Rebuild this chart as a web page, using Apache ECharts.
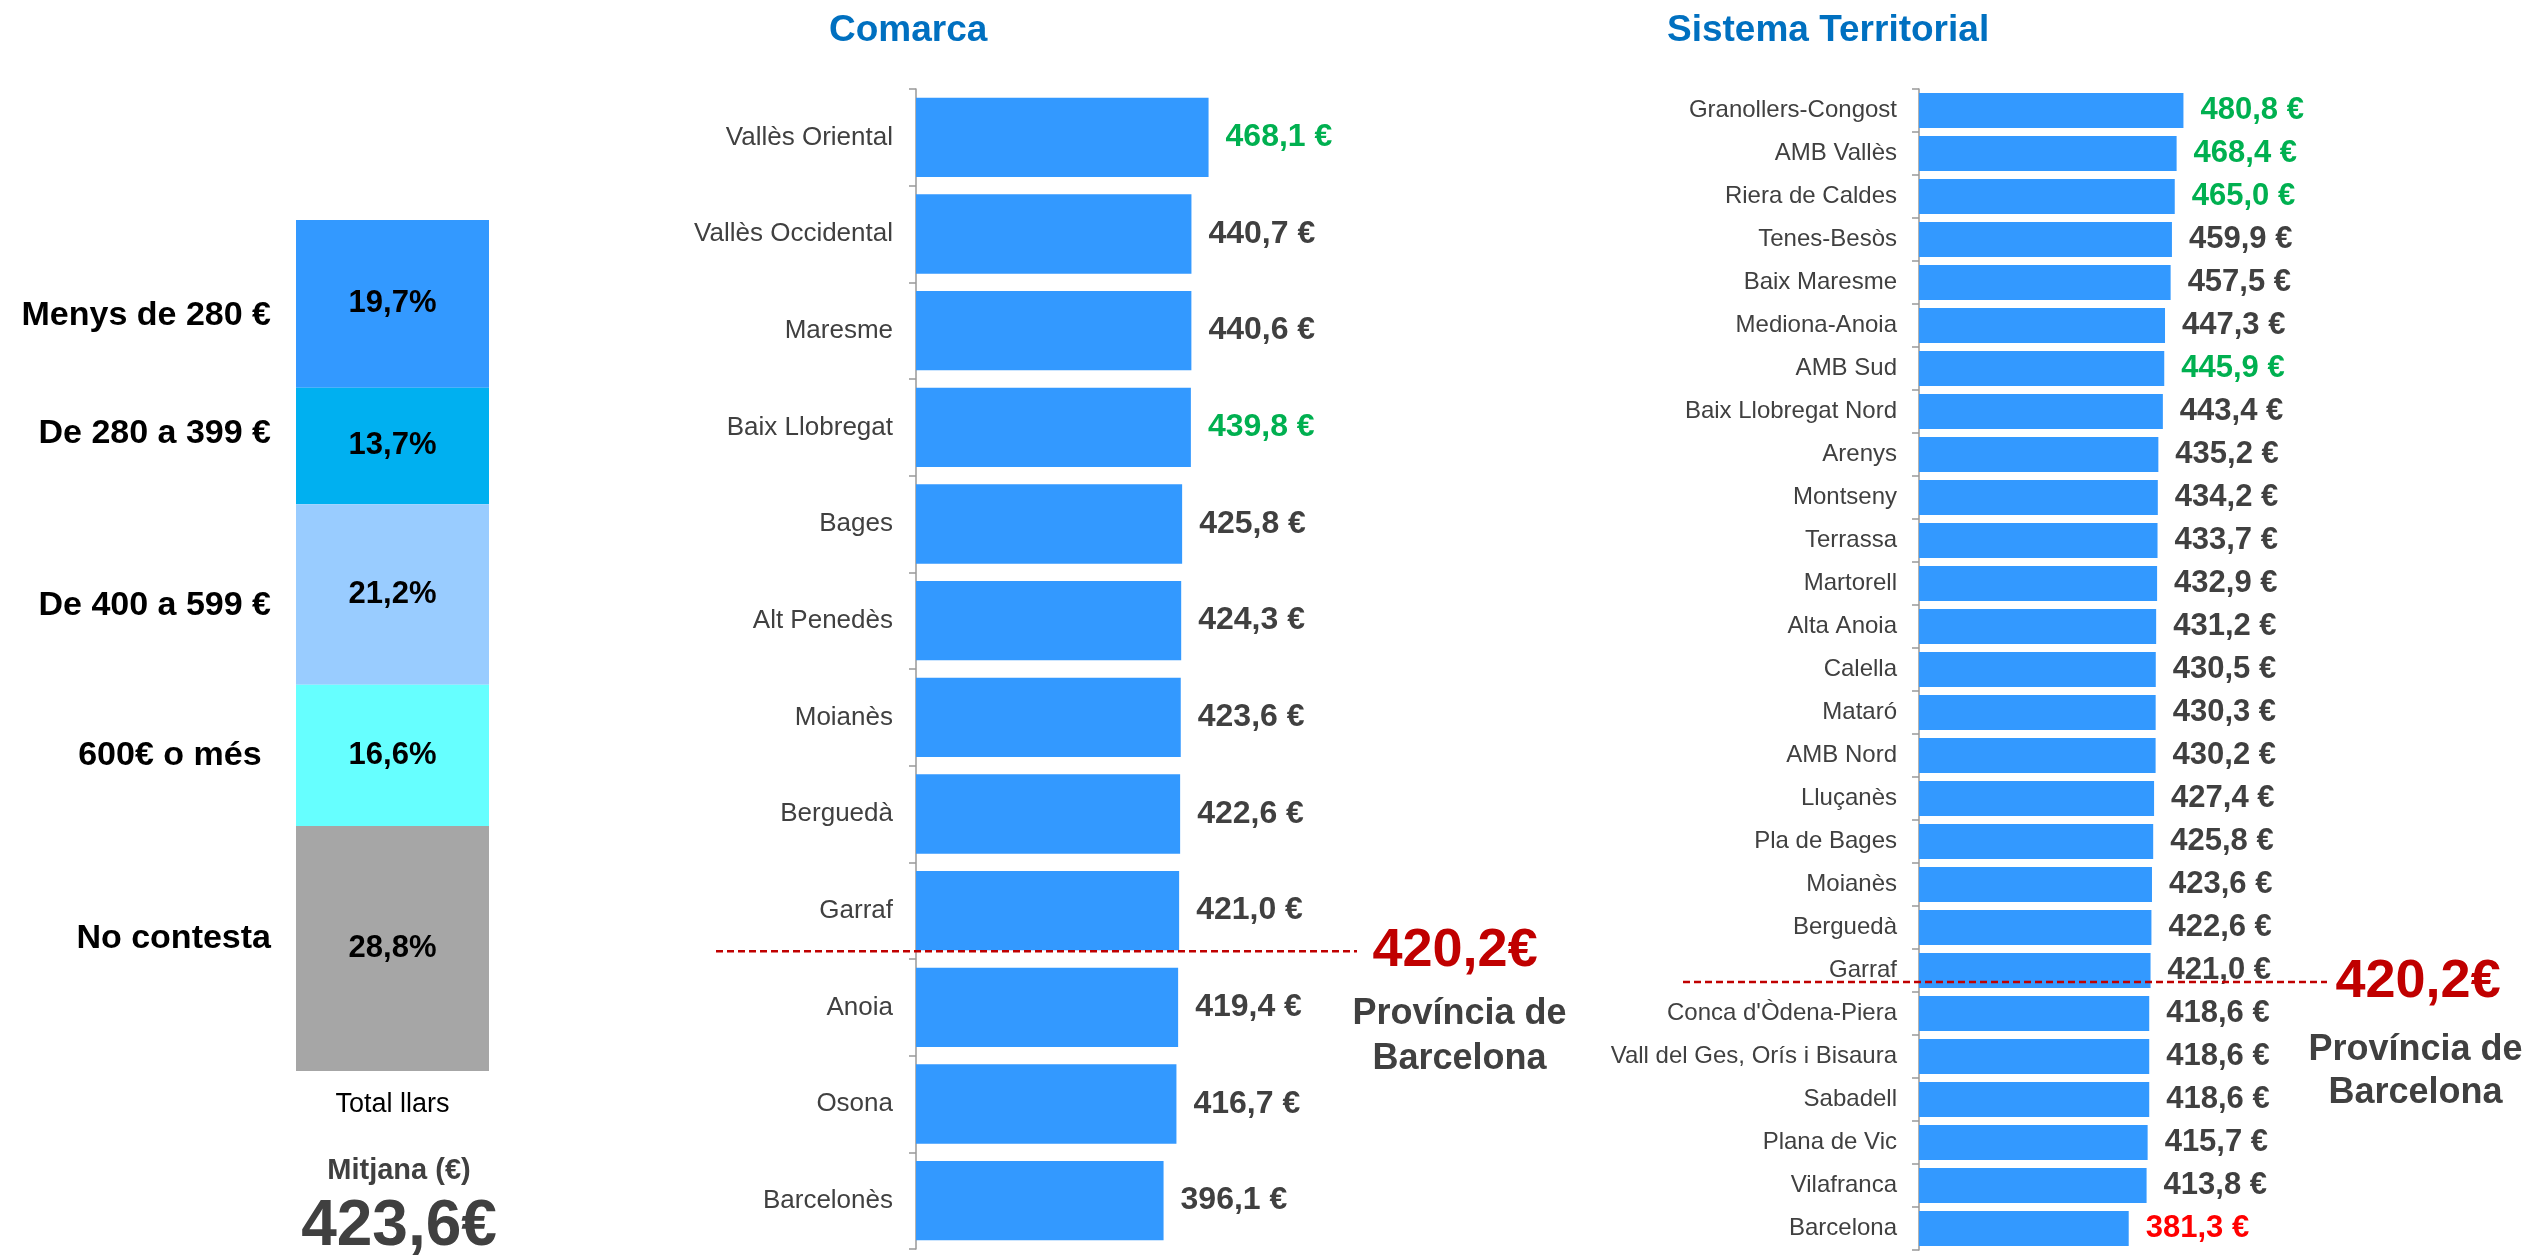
<!DOCTYPE html>
<html>
<head>
<meta charset="utf-8">
<script src="https://cdn.jsdelivr.net/npm/echarts@6/dist/echarts.min.js"></script>
<style>
  html, body { margin: 0; padding: 0; background: #fff; }
  #chart { width: 2533px; height: 1257px; }
</style>
</head>
<body>
<div id="chart"></div>
<script>
// Total llars: distribució per trams
const trams = ['Menys de 280 €', 'De 280 a 399 €', 'De 400 a 599 €', '600€ o més ', 'No contesta'];
const tramsPct = [19.7, 13.7, 21.2, 16.6, 28.8];
const totalLabel = 'Total llars';
const mitjana = 423.6;

// Comarca
const comarques = ['Vallès Oriental', 'Vallès Occidental', 'Maresme', 'Baix Llobregat', 'Bages', 'Alt Penedès',
  'Moianès', 'Berguedà', 'Garraf', 'Anoia', 'Osona', 'Barcelonès'];
const comarquesValor = [468.1, 440.7, 440.6, 439.8, 425.8, 424.3, 423.6, 422.6, 421.0, 419.4, 416.7, 396.1];
const comarquesVerd = ['Vallès Oriental', 'Baix Llobregat'];

// Sistema Territorial
const sistemes = ['Granollers-Congost', 'AMB Vallès', 'Riera de Caldes', 'Tenes-Besòs', 'Baix Maresme',
  'Mediona-Anoia', 'AMB Sud', 'Baix Llobregat Nord', 'Arenys', 'Montseny', 'Terrassa', 'Martorell',
  'Alta Anoia', 'Calella', 'Mataró', 'AMB Nord', 'Lluçanès', 'Pla de Bages', 'Moianès', 'Berguedà',
  'Garraf', "Conca d'Òdena-Piera", 'Vall del Ges, Orís i Bisaura', 'Sabadell', 'Plana de Vic',
  'Vilafranca', 'Barcelona'];
const sistemesValor = [480.8, 468.4, 465.0, 459.9, 457.5, 447.3, 445.9, 443.4, 435.2, 434.2, 433.7, 432.9,
  431.2, 430.5, 430.3, 430.2, 427.4, 425.8, 423.6, 422.6, 421.0, 418.6, 418.6, 418.6, 415.7, 413.8, 381.3];
const sistemesVerd = ['Granollers-Congost', 'AMB Vallès', 'Riera de Caldes', 'AMB Sud'];
const sistemesVermell = ['Barcelona'];

// mitjana provincial i on cau la línia sobre cada eix de categories
const provincia = 420.2;
const provinciaNom = ['Província de', 'Barcelona'];
const provinciaPosComarca = 8.42;
const provinciaPosSistema = 20.27;

const FONT = '"Liberation Sans", Arial, sans-serif';
const tramColors = ['#3399FF', '#00B0F0', '#99CCFF', '#66FFFF', '#A6A6A6'];
const tramNameOffsets = [[0, 12], [0, -12], [0, 11], [0, 0], [0, -10]];

const fmt = v => v.toFixed(1).replace('.', ',');

function valueColor(name, green, red) {
  if (green.indexOf(name) >= 0) return '#00B050';
  if (red && red.indexOf(name) >= 0) return '#FF0000';
  return '#404040';
}

function categoryAxis(idx, names, fontSize, margin) {
  return {
    type: 'category', gridIndex: idx, inverse: true, data: names,
    axisLine: { lineStyle: { color: '#999999', width: 1.5 } },
    axisTick: { show: true, length: 7, lineStyle: { color: '#999999', width: 1.5 } },
    axisLabel: { interval: 0, fontSize, color: '#404040', margin, fontFamily: FONT }
  };
}

function barSeries(idx, names, values, green, red, fontSize, gap) {
  return {
    type: 'bar', xAxisIndex: idx, yAxisIndex: idx,
    barCategoryGap: gap,
    itemStyle: { color: '#3399FF' },
    label: {
      show: true, position: 'right', distance: 17, fontSize, fontWeight: 'bold', fontFamily: FONT,
      formatter: p => fmt(p.value) + ' €'
    },
    data: values.map((v, i) => ({ value: v, label: { color: valueColor(names[i], green, red) } }))
  };
}

// línia discontínua de la mitjana provincial
function provinciaLine(idx, pos) {
  return {
    type: 'line', xAxisIndex: idx, yAxisIndex: idx, z: 5,
    symbol: 'none', silent: true,
    lineStyle: { color: '#C00000', width: 2.5, type: [7, 4] },
    data: [[0, pos], [1, pos]]
  };
}

// textos al final de la línia: valor i "Província de Barcelona"
function provinciaLabels(idx, pos, valDist, nameDist, pad, lh) {
  return [{
    type: 'scatter', xAxisIndex: idx, yAxisIndex: idx, z: 6, silent: true,
    symbolSize: 1, itemStyle: { color: 'rgba(0,0,0,0)', opacity: 1 },
    label: {
      show: true, position: 'right', distance: valDist,
      fontSize: 54, fontWeight: 'bold', color: '#C00000', fontFamily: FONT,
      formatter: () => fmt(provincia) + '€'
    },
    data: [[1, pos]]
  }, {
    type: 'scatter', xAxisIndex: idx, yAxisIndex: idx, z: 6, silent: true,
    symbolSize: 1, itemStyle: { color: 'rgba(0,0,0,0)', opacity: 1 },
    label: {
      show: true, position: 'right', distance: nameDist, padding: [pad, 0, 0, 0],
      formatter: () => provinciaNom.map(s => '{t|' + s + '}').join('\n'),
      rich: {
        t: { fontSize: 36, fontWeight: 'bold', color: '#404040', lineHeight: lh, align: 'center', fontFamily: FONT }
      }
    },
    data: [[1, pos]]
  }];
}

const series = [];
trams.forEach((t, i) => {
  series.push({
    type: 'bar', name: t, stack: 'pct', xAxisIndex: 0, yAxisIndex: 0,
    barWidth: '100%', barGap: '-100%',
    itemStyle: { color: tramColors[i] },
    label: {
      show: true, position: 'inside', fontSize: 31, fontWeight: 'bold', color: '#000', fontFamily: FONT,
      formatter: p => fmt(p.value) + '%'
    },
    data: [tramsPct[i]]
  });
});
// noms dels trams a l'esquerra de la barra
trams.forEach((t, i) => {
  series.push({
    type: 'bar', name: t, stack: 'nom', xAxisIndex: 0, yAxisIndex: 0, silent: true,
    barWidth: '100%', barGap: '-100%',
    itemStyle: { color: 'rgba(0,0,0,0)' },
    label: {
      show: true, position: 'left', distance: 25, offset: tramNameOffsets[i],
      fontSize: 34, fontWeight: 'bold', color: '#000', fontFamily: FONT, formatter: '{a}'
    },
    data: [tramsPct[i]]
  });
});
series.push(barSeries(1, comarques, comarquesValor, comarquesVerd, null, 32, '18%'));
series.push(barSeries(2, sistemes, sistemesValor, sistemesVerd, sistemesVermell, 31, '19%'));
series.push(provinciaLine(3, provinciaPosComarca));
series.push(...provinciaLabels(3, provinciaPosComarca, 15, -5, 171, 45));
series.push(provinciaLine(4, provinciaPosSistema));
series.push(...provinciaLabels(4, provinciaPosSistema, 8, -19, 179, 43));

const option = {
  animation: false,
  backgroundColor: '#fff',
  textStyle: { fontFamily: FONT },
  title: [
    { text: 'Comarca', left: 829, top: 12, padding: 0,
      textStyle: { fontSize: 37, fontWeight: 'bold', color: '#0070C0', fontFamily: FONT } },
    { text: 'Sistema Territorial', left: 1667, top: 12, padding: 0,
      textStyle: { fontSize: 37, fontWeight: 'bold', color: '#0070C0', fontFamily: FONT } }
  ],
  grid: [
    { left: 296, top: 220, width: 193, height: 851, outerBoundsMode: 'none' },
    { left: 916, top: 89, width: 500, height: 1160, outerBoundsMode: 'none' },
    { left: 1919, top: 89, width: 440, height: 1161, outerBoundsMode: 'none' },
    { left: 716, top: 89, width: 641, height: 1160, outerBoundsMode: 'none' },
    { left: 1683, top: 89, width: 644, height: 1161, outerBoundsMode: 'none' }
  ],
  xAxis: [
    { type: 'category', gridIndex: 0, data: [totalLabel],
      axisLine: { show: false }, axisTick: { show: false },
      axisLabel: { fontSize: 27, color: '#000', margin: 20, fontFamily: FONT } },
    { type: 'value', gridIndex: 1, min: 0, max: 800, show: false },
    { type: 'value', gridIndex: 2, min: 0, max: 800, show: false },
    { type: 'value', gridIndex: 3, min: 0, max: 1, show: false },
    { type: 'value', gridIndex: 4, min: 0, max: 1, show: false }
  ],
  yAxis: [
    { type: 'value', gridIndex: 0, min: 0, max: 100, inverse: true, show: false },
    categoryAxis(1, comarques, 26, 23),
    categoryAxis(2, sistemes, 24, 22),
    { type: 'value', gridIndex: 3, min: -0.5, max: comarques.length - 0.5, inverse: true, show: false },
    { type: 'value', gridIndex: 4, min: -0.5, max: sistemes.length - 0.5, inverse: true, show: false }
  ],
  graphic: [
    { type: 'text', x: 399, y: 1171,
      style: { text: 'Mitjana (€)', fontSize: 29, fontWeight: 'bold', fontFamily: FONT, fill: '#404040',
        align: 'center', verticalAlign: 'middle' } },
    { type: 'text', x: 399, y: 1227,
      style: { text: fmt(mitjana) + '€', fontSize: 64, fontWeight: 'bold', fontFamily: FONT, fill: '#404040',
        align: 'center', verticalAlign: 'middle' } }
  ],
  series
};

const chart = echarts.init(document.getElementById('chart'));
chart.setOption(option);
</script>
</body>
</html>
